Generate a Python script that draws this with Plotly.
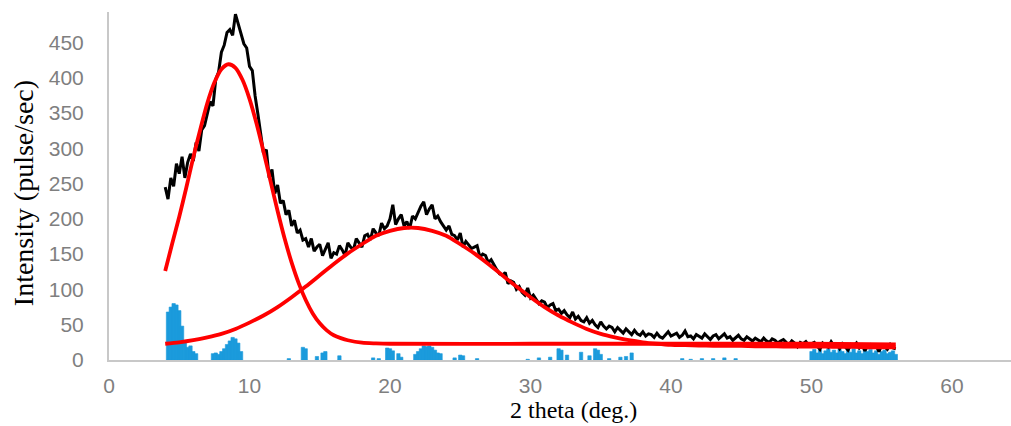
import numpy as np
import plotly.graph_objects as go

# Measured diffraction pattern, 2-theta from 4.0 to 56.0 deg in 0.2 deg steps
theta_start, theta_step = 4.0, 0.2
intensity = [
    245, 228, 258, 246, 278, 264, 288, 258, 280, 292, 282,
    308, 296, 326, 332, 350, 366, 360, 398, 408, 436,
    446, 464, 468, 460, 490, 476, 464, 448, 442, 416,
    410, 374, 348, 318, 292, 298, 258, 270, 236, 248,
    222, 226, 206, 212, 190, 198, 180, 184, 170, 172,
    160, 172, 154, 160, 164, 148, 158, 166, 144, 152,
    150, 162, 156, 148, 166, 160, 156, 172, 166, 160,
    176, 178, 170, 186, 180, 176, 194, 186, 190, 200,
    220, 192, 200, 206, 190, 196, 186, 204, 200, 210,
    218, 224, 206, 214, 220, 200, 204, 196, 190, 184,
    190, 178, 176, 170, 180, 160, 168, 163, 158, 160,
    162, 146, 150, 148, 138, 142, 134, 128, 122, 120,
    124, 108, 112, 110, 100, 104, 96, 92, 102, 88,
    92, 86, 80, 84, 82, 74, 78, 80, 70, 72,
    66, 70, 64, 60, 68, 58, 62, 56, 54, 60,
    52, 56, 50, 46, 54, 48, 44, 48, 46, 40,
    46, 42, 38, 44, 40, 36, 42, 37, 35, 40,
    34, 37, 36, 32, 38, 33, 31, 36, 40, 34,
    36, 38, 32, 35, 41, 33, 34, 30, 36, 33,
    31, 37, 33, 29, 34, 36, 30, 33, 37, 31,
    33, 28, 32, 35, 30, 28, 33, 30, 27, 31,
    29, 26, 31, 27, 25, 30, 28, 24, 27, 29,
    25, 22, 27, 24, 19, 25, 23, 26, 21, 23,
    25, 20, 15, 24, 21, 18, 26, 20, 22, 16,
    23, 19, 14, 22, 20, 24, 17, 21, 13, 20,
    22, 18, 20, 12, 21, 19, 15, 22, 17, 16,
]
theta = np.round(theta_start + theta_step * np.arange(len(intensity)), 1)

# Fitted component 1 (low-angle peak)
fit1_x = [4.0, 4.5, 5.0, 5.5, 6.0, 6.5, 7.0, 7.5, 8.0, 8.5, 9.0, 9.5, 10.0,
          10.5, 11.0, 11.5, 12.0, 12.5, 13.0, 13.5, 14.0, 14.5, 15.0, 15.5,
          16.0, 16.5, 17.0, 18.0, 19.0, 20.0, 30.0, 40.0, 50.0, 56.0]
fit1_y = [126, 165, 203, 244, 287, 327, 364, 393, 412, 419, 414, 397, 370,
          335, 295, 253, 211, 172, 138, 109, 85, 66, 52, 42,
          35, 31, 28, 24.5, 23.5, 23, 23, 23, 23, 22]

# Fitted component 2 (broad halo)
fit2_x = list(range(4, 57))
fit2_y = [23, 25, 28, 32, 37, 44, 53, 63, 75, 89, 104, 120, 136, 151, 164,
          176, 183, 187, 187, 183, 176, 164, 151, 136, 120, 104, 89, 75, 63,
          53, 44, 37, 32, 28, 25, 23, 21.5, 21, 20.5, 20, 20, 20, 19.5, 19.5,
          19, 19, 19, 19, 18.5, 18.5, 18, 18, 18]

# Absolute residual of the fit
resid_x = [4.2, 4.4, 4.6, 4.8, 5.0, 5.2, 5.4, 5.6, 5.8, 6.0, 6.2,
           7.4, 7.6, 7.8, 8.0, 8.2, 8.4, 8.6, 8.8, 9.0, 9.2, 9.4,
           12.8, 13.8, 14.0, 14.8, 15.2, 15.4, 16.4,
           18.8, 19.2, 19.8, 20.0, 20.2, 20.6, 20.8, 21.8, 22.0, 22.2, 22.4,
           22.6, 22.8, 23.0, 23.2, 23.4, 23.6, 24.6, 25.0, 25.2, 26.2,
           29.8, 30.6, 31.4, 32.0, 32.2, 32.6, 33.6, 34.2, 34.6, 34.8, 35.0,
           35.6, 36.4, 36.8, 37.2,
           40.8, 41.4, 42.2, 43.0, 43.8, 44.6,
           50.0, 50.2, 50.4, 50.6, 50.8, 51.0, 51.2, 51.4, 51.6, 51.8, 52.0,
           52.2, 52.4, 52.6, 52.8, 53.0, 53.2, 53.4, 53.6, 53.8, 54.0, 54.2,
           54.4, 54.6, 54.8, 55.0, 55.2, 55.4, 55.6, 55.8, 56.0]
resid_y = [68, 75, 80, 78, 70, 48, 26, 18, 20, 12, 9,
           9, 10, 8, 12, 16, 22, 27, 32, 30, 24, 12,
           2, 18, 16, 5, 10, 12, 6,
           3, 2, 17, 16, 13, 9, 4, 8, 12, 16, 20,
           19, 20, 18, 14, 10, 9, 3, 7, 6, 2,
           1, 3, 4, 16, 14, 7, 11, 6, 16, 14, 8,
           2, 4, 5, 10,
           2, 1, 2, 2, 3, 2,
           12, 15, 10, 14, 9, 13, 16, 11, 14, 10, 15,
           12, 9, 14, 11, 16, 10, 13, 9, 14, 12, 15,
           10, 13, 8, 12, 14, 9, 11, 13, 8]

x_ticks = [0, 10, 20, 30, 40, 50, 60]
y_ticks = [0, 50, 100, 150, 200, 250, 300, 350, 400, 450]

fig = go.Figure()

fig.add_trace(go.Bar(
    x=resid_x, y=resid_y, width=0.24,
    marker=dict(color="#1b9bdc", line=dict(width=0.6, color="#1b9bdc")),
    showlegend=False,
))
fig.add_trace(go.Scatter(
    x=theta, y=intensity, mode="lines",
    line=dict(color="black", width=3.0),
    showlegend=False,
))
fig.add_trace(go.Scatter(
    x=fit1_x, y=fit1_y, mode="lines",
    line=dict(color="#ff0000", width=3.8, shape="spline", smoothing=0.8),
    showlegend=False,
))
fig.add_trace(go.Scatter(
    x=fit2_x, y=fit2_y, mode="lines",
    line=dict(color="#ff0000", width=3.8, shape="spline", smoothing=0.8),
    showlegend=False,
))

tick_font = dict(family="Liberation Sans", size=21, color="#7f7f7f")

fig.update_layout(
    width=1011, height=426,
    margin=dict(l=109, r=0, t=12, b=66),
    paper_bgcolor="white", plot_bgcolor="white",
    showlegend=False,
    xaxis=dict(
        range=[0, 64.2], tickvals=x_ticks, showgrid=False, zeroline=False,
        showline=True, linecolor="#c8c8c8", linewidth=2,
        ticks="", tickfont=tick_font, ticklabelstandoff=6,
    ),
    yaxis=dict(
        range=[0, 493], tickvals=y_ticks, showgrid=False, zeroline=False,
        showline=True, linecolor="#c8c8c8", linewidth=2,
        ticks="", tickfont=tick_font, ticklabelstandoff=19,
    ),
    annotations=[
        dict(text="2 theta (deg.)", xref="paper", yref="paper",
             x=0.515, y=-0.143, showarrow=False,
             xanchor="center", yanchor="middle",
             font=dict(family="Liberation Serif", size=24, color="black")),
        dict(text="Intensity (pulse/sec)", xref="paper", yref="paper",
             x=-0.094, y=0.48, textangle=-90, showarrow=False,
             xanchor="center", yanchor="middle",
             font=dict(family="Liberation Serif", size=28, color="black")),
    ],
)

fig.write_html("out.html")
